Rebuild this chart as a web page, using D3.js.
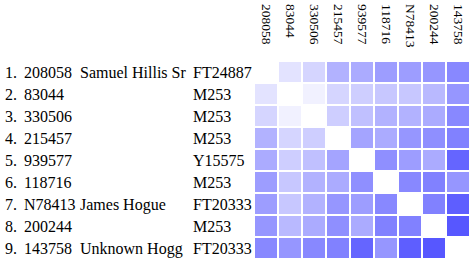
<!DOCTYPE html>
<html>
<head>
<meta charset="utf-8">
<script src="https://cdn.jsdelivr.net/npm/d3@7"></script>
<style>
  html, body { margin: 0; padding: 0; background: #fff; }
  svg { display: block; }
</style>
</head>
<body>
<svg id="chart" width="473" height="263"></svg>
<script>
const ids = ["208058", "83044", "330506", "215457", "939577", "118716", "N78413", "200244", "143758"];
const names = ["Samuel Hillis Sr", "", "", "", "", "", "James Hogue", "", "Unknown Hogg"];
const haplogroups = ["FT24887", "M253", "M253", "M253", "Y15575", "M253", "FT20333", "M253", "FT20333"];
const distances = [
  [0, 4, 6, 11, 12, 14, 14, 15, 17],
  [4, 0, 2, 6, 7, 8, 8, 10, 15],
  [6, 2, 0, 7, 9, 11, 11, 12, 17],
  [11, 6, 7, 0, 13, 12, 15, 16, 18],
  [12, 7, 9, 13, 0, 16, 14, 12, 22],
  [14, 8, 11, 12, 16, 0, 17, 18, 15],
  [14, 8, 11, 15, 14, 17, 0, 18, 23],
  [15, 10, 12, 16, 12, 18, 18, 0, 24],
  [17, 15, 17, 18, 22, 15, 23, 24, 0]
];

const FONT = "'Liberation Serif', Tinos, 'Times New Roman', Times, serif";
const svg = d3.select("#chart").attr("font-family", FONT);

const x = d3.scaleBand().domain(ids).range([254, 470]).paddingInner(2 / 24).paddingOuter(1 / 24);
const y = d3.scaleBand().domain(ids).range([61, 259]).paddingInner(2 / 22).paddingOuter(1 / 22);
const color = d3.scaleLinear().domain([0, 24]).range(["#ffffff", "#5757ff"]);

const cells = [];
distances.forEach((row, i) => row.forEach((v, j) => cells.push({ r: ids[i], c: ids[j], v })));

svg.append("g").selectAll("rect").data(cells).join("rect")
  .attr("x", d => x(d.c))
  .attr("y", d => y(d.r))
  .attr("width", x.bandwidth())
  .attr("height", y.bandwidth())
  .attr("fill", d => color(d.v));

// column headers
svg.append("g").selectAll("text").data(ids).join("text")
  .attr("transform", d => `translate(${x(d) + x.bandwidth() / 2},4) rotate(90)`)
  .attr("dominant-baseline", "central")
  .attr("font-family", FONT)
  .attr("font-size", "13.5px")
  .text(d => d);

// row labels
const rows = svg.append("g").selectAll("g").data(ids).join("g")
  .attr("transform", d => `translate(0,${y(d) + y.bandwidth() / 2})`);
const lab = (xPos, fn) => rows.append("text").attr("x", xPos).attr("dy", "0.35em")
  .attr("font-family", FONT).attr("font-size", "16px").text(fn);
lab(5, (d, i) => (i + 1) + ".");
lab(24, d => d);
lab(80, (d, i) => names[i]);
lab(193, (d, i) => haplogroups[i]);
</script>
</body>
</html>
